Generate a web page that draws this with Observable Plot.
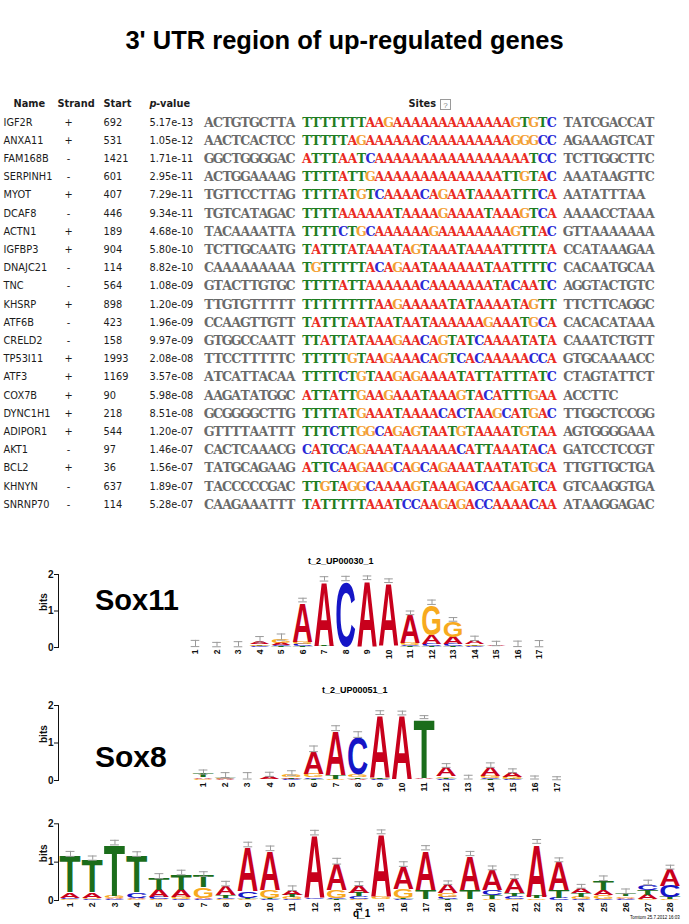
<!DOCTYPE html>
<html><head><meta charset="utf-8">
<script src="https://cdn.jsdelivr.net/npm/d3@7"></script>
<script src="https://cdn.jsdelivr.net/npm/@observablehq/plot@0.6"></script>
<style>
html,body{margin:0;padding:0;background:#fff;}
#page{position:relative;width:689px;height:924px;overflow:hidden;background:#fff;}
#page > svg{position:absolute;left:0;}
</style></head><body><div id="page"></div>
<script>
// ---------------- table data ----------------
const names = ["IGF2R","ANXA11","FAM168B","SERPINH1","MYOT","DCAF8","ACTN1","IGFBP3","DNAJC21","TNC","KHSRP","ATF6B","CRELD2","TP53I11","ATF3","COX7B","DYNC1H1","ADIPOR1","AKT1","BCL2","KHNYN","SNRNP70"];
const strands = ["+","+","-","-","+","-","+","+","-","-","+","-","-","+","+","+","+","+","-","+","-","-"];
const starts = [692,531,1421,601,407,446,189,904,114,564,898,423,158,1993,1169,90,218,544,97,36,637,114];
const pvalues = ["5.17e-13","1.05e-12","1.71e-11","2.95e-11","7.29e-11","9.34e-11","4.68e-10","5.80e-10","8.82e-10","1.08e-09","1.20e-09","1.96e-09","9.97e-09","2.08e-08","3.57e-08","5.98e-08","8.51e-08","1.20e-07","1.46e-07","1.56e-07","1.89e-07","5.28e-07"];
const leftFlanks = ["ACTGTGCTTA","AACTCACTCC","GGCTGGGGAC","ACTGGAAAAG","TGTTCCTTAG","TGTCATAGAC","TACAAAATTA","TCTTGCAATG","CAAAAAAAAA","GTACTTGTGC","TTGTGTTTTT","CCAAGTTGTT","GTGGCCAATT","TTCCTTTTTC","ATCATTACAA","AAGATATGGC","GCGGGGCTTG","GTTTTAATTT","CACTCAAACG","TATGCAGAAG","TACCCCCGAC","CAAGAAATTT"];
const sites = [
  "TTTTTTTAAGAAAAAAAAAAAAAGTGTC",
  "TTTTTAGAAAAAACAAAAAAAAAGGGCC",
  "ATTTAATCAAAAAAAAAAAAAAAAATCC",
  "TTTTATTGAAAAAAAAAAAAAATTGTAC",
  "TTTTATGTCAAAACAGAATAAAATTTCA",
  "TTTTAAAAAATAAAAGAAAATAAAGTCA",
  "TTTTCTGCAAAAAAGAAAAAAAAGTTAC",
  "TATTTATAAATAGTAAATAAAATTTTTA",
  "TGTTTTTACAGAATAAAAAATAATTTTC",
  "TTTTATTAAAAAACAAAAAAATACAATC",
  "TTTTTTTTAAGAAAAATATAAAATAGTT",
  "TATTTAATAATAATAAAAAAGAAATGCA",
  "TTATTATAAAGAACAGTATCAAAATATA",
  "TTTTTGTAAGAAACAGTCACAAAAACCA",
  "TTTTCTGTAAGAGAAAATATTATTTATC",
  "ATTATTGAAGAAATAAAGTACATTTGAA",
  "TTTTATGAAATAAAACACTAAGCATGAC",
  "TTTCTTGGCAGAGTAATGTAAAATGTAA",
  "CATCCAGAAATAAAAAACATTAAATACA",
  "ATTCAAGAAGCAGCAGAAATAATATGCA",
  "TTGTAGGCAAAAGTAAAGACCAAGATCA",
  "TATTTTTAAATCCAAGAGACCAAAACAA"];
const rightFlanks = ["TATCGACCAT","AGAAAGTCAT","TCTTGGCTTC","AAATAAGTTC","AATATTTAA","AAAACCTAAA","GTTAAAAAAA","CCATAAAGAA","CACAATGCAA","AGGTACTGTC","TTCTTCAGGC","CACACATAAA","CAAATCTGTT","GTGCAAAACC","CTAGTATTCT","ACCTTC","TTGGCTCCGG","AGTGGGGAAA","GATCCTCCGT","TTGTTGCTGA","GTCAAGGTGA","ATAAGGAGAC"];
const headers = ["Name","Strand","Start","p","-value","Sites"];

// ---------------- logo data (bits per base per position) ----------------
const sox11A = [0.01,0.005,0.005,0.08,0.05,1.10,1.78,0.01,1.83,1.75,0.80,0.25,0.20,0.12,0.02,0.01,0.005];
const sox11C = [0.005,0.005,0.005,0.02,0.03,0.05,0.01,1.80,0.01,0.01,0.03,0.05,0.05,0.02,0.01,0.005,0.005];
const sox11G = [0.005,0.005,0.005,0.03,0.10,0.08,0.01,0.01,0.01,0.01,0.05,0.85,0.45,0.03,0.01,0.005,0.005];
const sox11T = [0.005,0.005,0.005,0.02,0.02,0.02,0.02,0.01,0.01,0.01,0.02,0.03,0.02,0.02,0.01,0.005,0.005];
const sox11Err = [0.17,0.12,0.14,0.15,0.17,0.10,0.12,0.12,0.10,0.10,0.10,0.12,0.10,0.12,0.12,0.15,0.17];

const sox8A = [0.04,0.02,0.01,0.07,0.04,0.60,1.20,0.03,1.70,1.72,0.03,0.25,0.01,0.25,0.12,0.01,0.005];
const sox8C = [0.01,0.02,0.01,0.01,0.02,0.04,0.01,1.00,0.02,0.01,0.01,0.03,0.01,0.03,0.02,0.01,0.005];
const sox8G = [0.02,0.02,0.01,0.02,0.06,0.10,0.02,0.08,0.02,0.01,0.01,0.04,0.01,0.05,0.05,0.01,0.005];
const sox8T = [0.10,0.02,0.01,0.01,0.02,0.03,0.10,0.04,0.02,0.01,1.60,0.03,0.01,0.02,0.02,0.01,0.005];
const sox8Err = [0.11,0.13,0.17,0.11,0.12,0.15,0.13,0.15,0.10,0.10,0.08,0.10,0.10,0.12,0.10,0.08,0.08];

const q1A = [0.15,0.15,0.03,0.03,0.20,0.20,0.03,0.25,1.17,1.05,0.12,1.65,0.70,0.20,1.65,0.60,1.05,0.25,0.90,0.55,0.38,1.40,0.75,0.15,0.15,0.04,0.12,0.45];
const q1C = [0.03,0.02,0.02,0.15,0.05,0.02,0.02,0.04,0.18,0.02,0.02,0.04,0.03,0.07,0.01,0.02,0.01,0.05,0.01,0.12,0.08,0.01,0.05,0.02,0.02,0.02,0.15,0.30];
const q1G = [0.02,0.03,0.05,0.02,0.02,0.05,0.28,0.02,0.02,0.20,0.05,0.01,0.20,0.03,0.07,0.25,0.01,0.10,0.01,0.03,0.03,0.03,0.01,0.05,0.10,0.04,0.02,0.02];
const q1T = [0.95,0.85,1.35,0.95,0.30,0.40,0.30,0.07,0.03,0.03,0.07,0.01,0.02,0.09,0.01,0.02,0.25,0.02,0.25,0.10,0.08,0.05,0.20,0.10,0.25,0.08,0.12,0.05];
const q1Err = [0.13,0.11,0.12,0.12,0.13,0.12,0.12,0.12,0.12,0.12,0.12,0.12,0.15,0.10,0.10,0.12,0.11,0.09,0.11,0.10,0.10,0.10,0.10,0.10,0.12,0.12,0.12,0.10];

// ---------------- colours ----------------
const siteColors = {A:"#ea2a22", C:"#2a2ad6", G:"#f3a035", T:"#1f7d22", N:"#6a6a6a"};
const logoColors = {A:"#c8001c", C:"#1515c6", G:"#f7aa1e", T:"#1b6d1b"};

const page = d3.select("#page");

// ---------------- table ----------------
const SITE0 = 10.8, RIGHT0 = 39.6;
const rows = names.map((name, i) => ({i, name, strand: strands[i], start: String(starts[i]), p: pvalues[i]}));
const letters = [];
names.forEach((n, r) => {
  [...leftFlanks[r]].forEach((ch, k) => letters.push({row: r, x: k, ch, key: "N"}));
  [...sites[r]].forEach((ch, k) => letters.push({row: r, x: SITE0 + k, ch, key: ch}));
  [...rightFlanks[r]].forEach((ch, k) => letters.push({row: r, x: RIGHT0 + k, ch, key: "N"}));
});
const hdr = [-1];
const table = Plot.plot({
  width: 689, height: 430,
  marginTop: 0, marginBottom: 0, marginLeft: 0, marginRight: 0,
  x: {domain: [0, 48.6], range: [208.5, 649.3], axis: null},
  y: {domain: [-1, 21], range: [13.8, 414.2], axis: null},
  color: {type: "ordinal", domain: ["A","C","G","T","N"], range: ["A","C","G","T","N"].map(k => siteColors[k])},
  style: {background: "transparent", fontFamily: "'DejaVu Sans', sans-serif", fontSize: "9.8px", color: "#1c1c1c", overflow: "visible"},
  marks: [
    Plot.text(rows, {y: "i", text: "name", frameAnchor: "left", dx: 3, textAnchor: "start"}),
    Plot.text(rows, {y: "i", text: "strand", frameAnchor: "left", dx: 68, textAnchor: "middle"}),
    Plot.text(rows, {y: "i", text: "start", frameAnchor: "left", dx: 103, textAnchor: "start"}),
    Plot.text(rows, {y: "i", text: "p", frameAnchor: "left", dx: 149, textAnchor: "start"}),
    Plot.text(letters, {x: "x", y: "row", text: "ch", fill: "key", fontFamily: "'DejaVu Serif', serif", fontWeight: "bold", fontSize: 12.6}),
    Plot.text(hdr, {y: d => d, text: () => headers[0], frameAnchor: "left", dx: 13, textAnchor: "start", fontWeight: "bold"}),
    Plot.text(hdr, {y: d => d, text: () => headers[1], frameAnchor: "left", dx: 57, textAnchor: "start", fontWeight: "bold"}),
    Plot.text(hdr, {y: d => d, text: () => headers[2], frameAnchor: "left", dx: 103, textAnchor: "start", fontWeight: "bold"}),
    Plot.text(hdr, {y: d => d, text: () => headers[3], frameAnchor: "left", dx: 149, textAnchor: "start", fontWeight: "bold", fontStyle: "italic"}),
    Plot.text(hdr, {y: d => d, text: () => headers[4], frameAnchor: "left", dx: 155.5, textAnchor: "start", fontWeight: "bold"}),
    Plot.text(hdr, {y: d => d, text: () => headers[5], frameAnchor: "left", dx: 408, textAnchor: "start", fontWeight: "bold"})
  ]
});
d3.select(table).style("top", "90px");
page.node().appendChild(table);

// ---------------- logos ----------------
function makeLogo({A, C, G, T, err, top, height, marginTop, marginBottom, xRange}) {
  const n = A.length;
  const stacks = [], bars = [];
  for (let i = 0; i < n; i++) {
    const parts = [["A", A[i]], ["C", C[i]], ["G", G[i]], ["T", T[i]]].sort((a, b) => a[1] - b[1]);
    let y = 0;
    for (const [b, h] of parts) { stacks.push({pos: i + 1, base: b, y1: y, y2: y + h}); y += h; }
    bars.push({pos: i + 1, lo: y, hi: y + err[i]});
  }
  const chart = Plot.plot({
    width: 689, height,
    marginLeft: 58, marginRight: 0, marginTop, marginBottom,
    x: {domain: [0.5, n + 0.5], range: xRange, ticks: d3.range(1, n + 1), tickFormat: d => String(d), tickRotate: -90, tickSize: 0, tickPadding: 2, label: null},
    y: {domain: [0, 2], ticks: [0, 1, 2], tickFormat: d => String(d), tickSize: 4, tickPadding: 1, label: null, line: true},
    style: {background: "transparent", fontFamily: "'Liberation Sans', Arial, sans-serif", fontSize: "10px", fontWeight: "bold", color: "#111", overflow: "visible"},
    marks: [
      Plot.ruleX(bars, {x: "pos", y1: "lo", y2: "hi", stroke: "#9a9a9a", strokeWidth: 1}),
      Plot.ruleY(bars, {y: "hi", x1: d => d.pos - 0.2, x2: d => d.pos + 0.2, stroke: "#9a9a9a", strokeWidth: 1}),
      Plot.ruleY(bars, {y: "lo", x1: d => d.pos - 0.2, x2: d => d.pos + 0.2, stroke: "#9a9a9a", strokeWidth: 1}),
      Plot.text(["bits"], {frameAnchor: "left", dx: -15, rotate: -90, text: d => d, fontWeight: "bold", fontSize: 10})
    ]
  });
  const svg = d3.select(chart);
  svg.selectAll('g[aria-label^="x-axis"] text').attr("font-size", 8.5).style("font-size", "8.5px");
  const sx = chart.scale("x"), sy = chart.scale("y");
  const fx = sx.apply ? v => sx.apply(v) : d3.scaleLinear(sx.domain, sx.range);
  const fy = sy.apply ? v => sy.apply(v) : d3.scaleLinear(sy.domain, sy.range);
  const w = (fx(1.5) - fx(0.5)) * 0.96;
  const CAP = 71.6;
  const g = svg.insert("g", 'g[aria-label="rule"]');
  for (const s of stacks) {
    const yb = fy(s.y1), yt = fy(s.y2), h = yb - yt;
    if (h <= 0.05) continue;
    g.append("text")
      .attr("transform", `translate(${fx(s.pos) - w / 2},${yb}) scale(1,${h / CAP})`)
      .attr("x", 0).attr("y", 0)
      .attr("font-size", 100).attr("font-weight", "bold")
      .attr("font-family", "'Liberation Sans', Arial, sans-serif")
      .attr("textLength", w).attr("lengthAdjust", "spacingAndGlyphs")
      .attr("text-anchor", "start")
      .attr("fill", logoColors[s.base])
      .text(s.base);
  }
  svg.style("top", top + "px");
  page.node().appendChild(chart);
}

makeLogo({A: sox11A, C: sox11C, G: sox11G, T: sox11T, err: sox11Err, top: 550, height: 115, marginTop: 24, marginBottom: 18, xRange: [184.25, 549.75]});
makeLogo({A: sox8A, C: sox8C, G: sox8G, T: sox8T, err: sox8Err, top: 680, height: 120, marginTop: 25, marginBottom: 20, xRange: [191.95, 567.65]});
makeLogo({A: q1A, C: q1C, G: q1G, T: q1T, err: q1Err, top: 800, height: 124, marginTop: 23.3, marginBottom: 24, xRange: [58.9, 681.1]});

// ---------------- annotations ----------------
const ov = page.append("svg").attr("width", 689).attr("height", 924).style("top", "0px")
  .style("font-family", "'Liberation Sans', Arial, sans-serif").style("font-weight", "bold");
ov.append("text").attr("x", 344.5).attr("y", 49).attr("text-anchor", "middle").attr("font-size", 25.5).text("3' UTR region of up-regulated genes");
ov.append("rect").attr("x", 440.5).attr("y", 99.5).attr("width", 10).attr("height", 10).attr("fill", "#fff").attr("stroke", "#9a9a9a");
ov.append("text").attr("x", 445.5).attr("y", 107.5).attr("text-anchor", "middle").attr("font-size", 8).attr("font-weight", "normal").attr("fill", "#888").text("?");
ov.append("text").attr("x", 308).attr("y", 564).attr("font-size", 9).text("t_2_UP00030_1");
ov.append("text").attr("x", 95).attr("y", 610).attr("font-size", 29).text("Sox11");
ov.append("text").attr("x", 322).attr("y", 693).attr("font-size", 9).text("t_2_UP00051_1");
ov.append("text").attr("x", 95).attr("y", 767).attr("font-size", 30).text("Sox8");
ov.append("text").attr("x", 353).attr("y", 917).attr("font-size", 10).text("q_1");
ov.append("text").attr("x", 630).attr("y", 919).attr("font-size", 4.5).attr("font-weight", "normal").text("Tomtom 25.7.2012 16:03");
</script>
</body></html>
